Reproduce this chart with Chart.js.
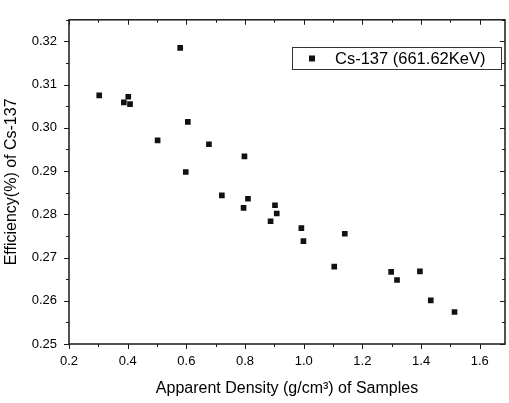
<!DOCTYPE html>
<html>
<head>
<meta charset="utf-8">
<script src="https://cdn.jsdelivr.net/npm/chart.js@4/dist/chart.umd.min.js"></script>
<style>
  body { margin: 0; background: #fff; }
  #wrap { width: 509px; height: 403px; }
</style>
</head>
<body>
<div id="wrap"><canvas id="chart" width="509" height="403"></canvas></div>
<script>
// values
const density = [0.303, 0.387, 0.402, 0.408, 0.502, 0.579, 0.598, 0.605, 0.677, 0.721,
                 0.795, 0.798, 0.810, 0.887, 0.902, 0.908, 0.992, 0.999, 1.104, 1.140,
                 1.298, 1.318, 1.396, 1.433, 1.514];
const efficiency = [0.3075, 0.3059, 0.3072, 0.3055, 0.2971, 0.3185, 0.2898, 0.3014, 0.2962, 0.2844,
                    0.2815, 0.2934, 0.2836, 0.2784, 0.2821, 0.2802, 0.2768, 0.2738, 0.2679, 0.2755,
                    0.2667, 0.2648, 0.2668, 0.2601, 0.2574];
const xTickValues = [0.2, 0.4, 0.6, 0.8, 1.0, 1.2, 1.4, 1.6];
const yTickValues = [0.25, 0.26, 0.27, 0.28, 0.29, 0.30, 0.31, 0.32];
const seriesLabel = 'Cs-137 (661.62KeV)';

const FONT = '"Liberation Sans", Arial, sans-serif';

// frame, ticks on all four sides (Origin style) and the boxed legend
const framePlugin = {
    id: 'frame',
    beforeDatasetsDraw(chart) {
        const { ctx, chartArea: a, scales: { x, y } } = chart;
        ctx.save();
        ctx.strokeStyle = '#1a1a1a';
        ctx.lineWidth = 1.5;
        ctx.strokeRect(a.left, a.top, a.right - a.left, a.bottom - a.top);

        ctx.lineWidth = 1;
        const xMinor = xTickValues.map(v => v + 0.1);
        const yMinor = yTickValues.map(v => v + 0.005);
        ctx.beginPath();
        xTickValues.forEach(v => {
            const px = Math.round(x.getPixelForValue(v)) + 0.5;
            ctx.moveTo(px, a.bottom); ctx.lineTo(px, a.bottom + 5);
            ctx.moveTo(px, a.top); ctx.lineTo(px, a.top + 5);
        });
        xMinor.forEach(v => {
            if (v > x.max) return;
            const px = Math.round(x.getPixelForValue(v)) + 0.5;
            ctx.moveTo(px, a.bottom); ctx.lineTo(px, a.bottom + 3);
            ctx.moveTo(px, a.top); ctx.lineTo(px, a.top + 3);
        });
        yTickValues.forEach(v => {
            const py = Math.round(y.getPixelForValue(v)) + 0.5;
            ctx.moveTo(a.left - 5, py); ctx.lineTo(a.left, py);
            ctx.moveTo(a.right, py); ctx.lineTo(a.right - 5, py);
        });
        yMinor.forEach(v => {
            if (v > y.max) return;
            const py = Math.round(y.getPixelForValue(v)) + 0.5;
            ctx.moveTo(a.left - 3, py); ctx.lineTo(a.left, py);
            ctx.moveTo(a.right, py); ctx.lineTo(a.right - 3, py);
        });
        ctx.stroke();
        ctx.restore();
    },
    afterDraw(chart) {
        const { ctx } = chart;
        const ds = chart.data.datasets[0];
        ctx.save();
        ctx.strokeStyle = '#333';
        ctx.lineWidth = 1;
        ctx.strokeRect(292.5, 47.5, 209, 22);
        ctx.fillStyle = '#111';
        ctx.fillRect(309, 55.5, 6, 6);
        ctx.font = '16.5px ' + FONT;
        ctx.textBaseline = 'middle';
        ctx.fillStyle = '#000';
        ctx.fillText(ds.label, 335, 59);
        ctx.restore();
    }
};

new Chart(document.getElementById('chart'), {
    type: 'scatter',
    data: {
        datasets: [{
            label: seriesLabel,
            data: density.map((d, i) => ({ x: d, y: efficiency[i] })),
            pointStyle: 'rect',
            pointRadius: 4,
            pointHoverRadius: 4,
            backgroundColor: '#111',
            borderColor: '#111',
            borderWidth: 0
        }]
    },
    options: {
        responsive: false,
        animation: false,
        layout: { padding: { top: 7, right: 1, left: 0, bottom: 0 } },
        plugins: {
            legend: { display: false },
            tooltip: { enabled: false }
        },
        scales: {
            x: {
                type: 'linear',
                min: 0.2,
                max: 1.686,
                afterBuildTicks: s => { s.ticks = xTickValues.map(v => ({ value: v })); },
                afterFit: s => { s.height = 59; },
                grid: { display: false, drawTicks: false },
                border: { display: false },
                ticks: {
                    color: '#000',
                    font: { family: FONT, size: 13 },
                    padding: 10,
                    maxRotation: 0,
                    callback: v => v.toFixed(1)
                },
                title: {
                    display: true,
                    text: 'Apparent Density (g/cm³) of Samples',
                    color: '#000',
                    font: { family: FONT, size: 16 },
                    padding: { top: 0, bottom: 5 }
                }
            },
            y: {
                type: 'linear',
                min: 0.25,
                max: 0.325,
                afterBuildTicks: s => { s.ticks = yTickValues.map(v => ({ value: v })); },
                afterFit: s => { s.width = 69; },
                grid: { display: false, drawTicks: false },
                border: { display: false },
                ticks: {
                    color: '#000',
                    font: { family: FONT, size: 13 },
                    padding: 12,
                    callback: v => v.toFixed(2)
                },
                title: {
                    display: true,
                    text: 'Efficiency(%) of Cs-137',
                    color: '#000',
                    font: { family: FONT, size: 16 },
                    padding: { top: 2, bottom: 0 }
                }
            }
        }
    },
    plugins: [framePlugin]
});
</script>
</body>
</html>
